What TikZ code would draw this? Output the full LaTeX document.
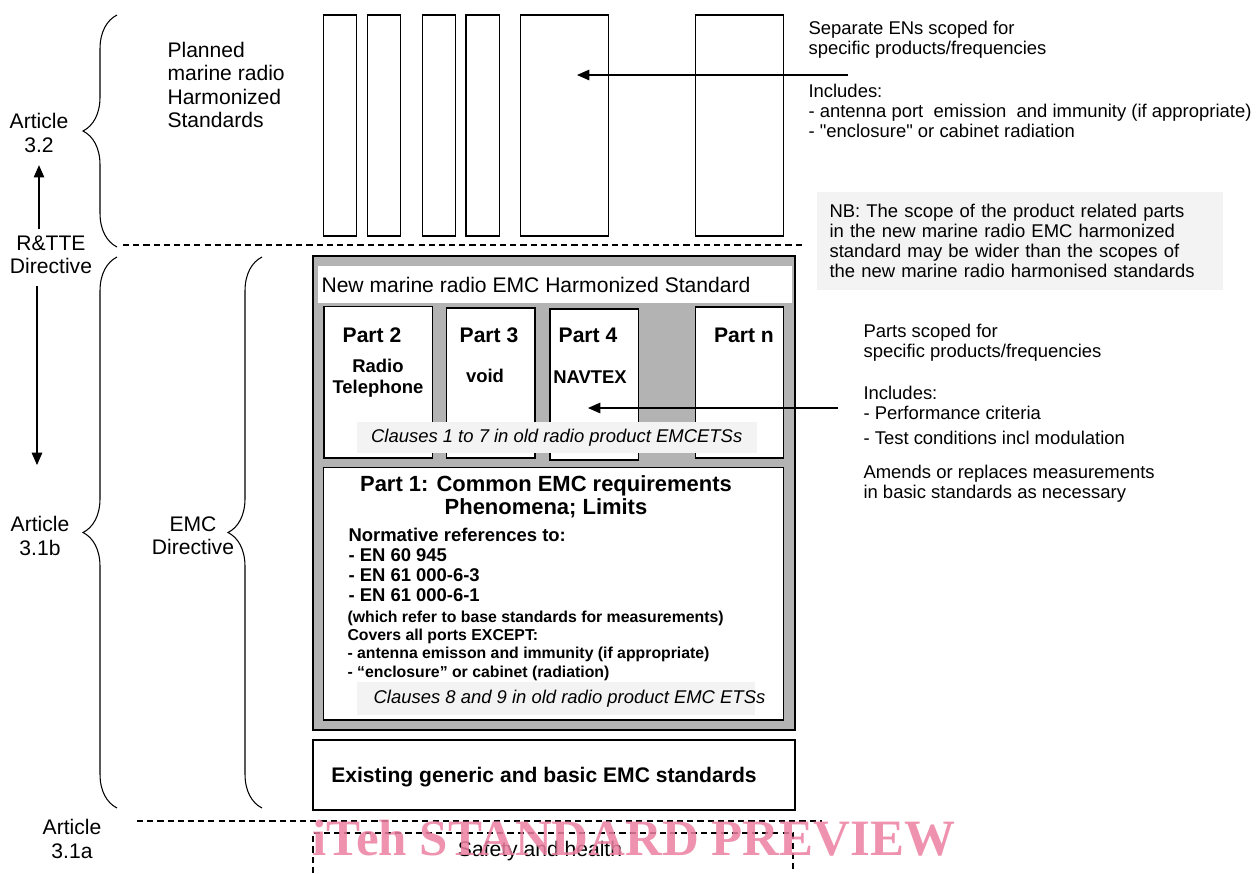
\documentclass[tikz,border=0pt]{standalone}
\usepackage{fontspec}
\setmainfont{Liberation Sans}[Ligatures=TeXOff]
\newfontfamily\wmfont{Liberation Serif}
\usetikzlibrary{arrows.meta,decorations.pathreplacing}

\definecolor{stdgray}{RGB}{179,179,179}
\definecolor{notegray}{RGB}{243,243,243}
\definecolor{wmpink}{RGB}{236,128,162}

\begin{document}
\begin{tikzpicture}[
  x=0.02cm,
  y=-0.02cm,
  line width=0.6pt,
  lbl/.style={font=\fontsize{12}{13.2}\selectfont, align=center, inner sep=0pt},
  note/.style={font=\fontsize{10.5}{11.4}\selectfont, align=left, anchor=west, inner sep=0pt},
  partlbl/.style={font=\fontsize{12}{13.2}\selectfont\bfseries, inner sep=0pt},
  sublbl/.style={font=\fontsize{10.5}{11.8}\selectfont\bfseries, align=center, inner sep=0pt},
  clausebox/.style={fill=notegray, inner sep=0pt, font=\fontsize{10.5}{12}\selectfont\itshape},
  arr/.style={-{Triangle[length=7pt,width=6pt]}},
  curly/.style={decorate, decoration={brace, amplitude=0.68cm}},
  sep/.style={dash pattern=on 3.5pt off 2.3pt}
]

% Page frame
\useasboundingbox (0,0) rectangle (1258,873);
\fill[white] (0,0) rectangle (1258,873);

% Left column labels
\node[lbl] (art32) at (39,133) {Article\\3.2};
\node[lbl] (rtte) at (51,255) {R\&TTE\\Directive};
\node[lbl] (art31b) at (40,536) {Article\\3.1b};
\node[lbl] (art31a) at (72,839) {Article\\3.1a};
\node[lbl] (emcdir) at (193,536) {EMC\\Directive};
\node[lbl, align=left, anchor=west] (planned) at (167,85) {Planned\\marine radio\\Harmonized\\Standards};

% Directive arrows
\coordinate (downtip) at (37,465);
\draw[arr, shorten <=3.7pt] (art32.south |- rtte.north) -- ([yshift=-7pt]art32.south);
\draw[arr, shorten <=6.5pt] (rtte.south -| downtip) -- (downtip);

% Braces
\draw[curly] (117,247) -- (117,15);
\draw[curly] (117,808) -- (117,257);
\draw[curly] (262,808) -- (262,257);

% Article borders
\draw[sep] (123,245) -- (803,245);
\draw[sep] (137,821) -- (822,821);

% Planned harmonized standards
\foreach \xa/\xb in {323.3/356.7,367.3/400.7,422.3/455.7,466/499.3,520.7/608.3,695.7/783.3} {
  \draw (\xa,15) rectangle (\xb,236);
}

% EMC harmonized standard
\draw[fill=stdgray] (313,256) rectangle (795,730);
\fill[white] (318,266) rectangle (792,303);
\node[lbl, anchor=west] (newstd) at (321,284.5) {New marine radio EMC Harmonized Standard};

% Product parts
\draw[fill=white] (324,306.7) rectangle (432.7,458);
\draw[fill=white] (446.7,308) rectangle (535,458);
\draw[fill=white] (550,309) rectangle (638.3,460);
\draw[fill=white] (695.7,307) rectangle (783.3,458);

\node[partlbl] (part2) at (372,335) {Part 2};
\node[sublbl] (radiotel) at (378,378.5) {Radio\\Telephone};
\node[partlbl] (part3) at (489,335) {Part 3};
\node[sublbl] (void3) at (485,376) {void};
\node[partlbl] (part4) at (588,335) {Part 4};
\node[sublbl] (navtex) at (590,377) {NAVTEX};
\node[partlbl] (partn) at (744,335) {Part n};

\node[clausebox, minimum width=8cm, minimum height=0.632cm] (clauses17) at (556.7,437.5) {Clauses 1 to 7 in old radio product EMCETSs};

% Common part
\draw[fill=white] (323.3,467.3) rectangle (783.3,720);
\node[lbl, font=\fontsize{12.5}{13.2}\selectfont\bfseries] (part1) at (546,496.5) {Part 1: Common EMC requirements\\Phenomena; Limits};
\node[note, font=\fontsize{10.5}{11.3}\selectfont\bfseries] (normrefs) at (348,565) {Normative references to:\\- EN 60 945\\- EN 61 000-6-3\\- EN 61 000-6-1};
\node[note, font=\fontsize{9}{10.4}\selectfont\bfseries] (covers) at (347,645.5) {(which refer to base standards for measurements)\\Covers all ports EXCEPT:\\- antenna emisson and immunity (if appropriate)\\- “enclosure” or cabinet (radiation)};
\node[clausebox, minimum width=7.96cm, minimum height=0.66cm] (clauses89box) at (556,698.3) {};
\node[clausebox, fill=none] (clauses89) at (569.5,698.3) {Clauses 8 and 9 in old radio product EMC ETSs};

% Generic standards
\draw[fill=white] (313,740) rectangle (795,810);
\node[partlbl] (existing) at (544,777) {Existing generic and basic EMC standards};

% Safety and health
\draw[sep] (313,873) -- (313,833) -- (793,833) -- (793,873);
\node[lbl] (safety) at (540,851) {Safety and health};

% Side notes
\node[note] (enscope) at (808,40) {Separate ENs scoped for\\specific products/frequencies};
\node[note] (enincl) at (808,110.5) {Includes:\\- antenna port~ emission~ and immunity (if appropriate)\\- "enclosure" or cabinet radiation};
\node[note, fill=notegray, anchor=north west, text width=7.62cm, inner xsep=0.26cm, minimum height=1.96cm] (nbnote) at (816,191) {NB: The scope of the product related parts\\in the new marine radio EMC harmonized\\standard may be wider than the scopes of\\the new marine radio harmonised standards};
\node[note] (partscope) at (863,342.5) {Parts scoped for\\specific products/frequencies};
\node[note] (partincl) at (863,415.5) {Includes:\\- Performance criteria\\[2.8pt]- Test conditions incl modulation};
\node[note] (amends) at (863,483.5) {Amends or replaces measurements\\in basic standards as necessary};

% Pointer arrows
\coordinate (entip) at (577,75);
\coordinate (enfrom) at (848,75);
\coordinate (parttip) at (588,408);
\coordinate (partfrom) at (838,408);
\draw[arr] (enfrom) -- (entip);
\draw[arr] (partfrom) -- (parttip);

% Watermark
\node[text=wmpink, opacity=0.85, inner sep=0pt, font=\wmfont\bfseries\fontsize{29}{30}\selectfont] (watermark) at (634,838) {iTeh STANDARD PREVIEW};

\end{tikzpicture}
\end{document}
